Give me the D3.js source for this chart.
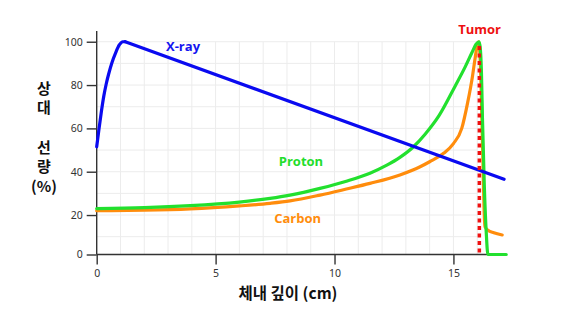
<!DOCTYPE html>
<html>
<head>
<meta charset="utf-8">
<script src="https://cdn.jsdelivr.net/npm/d3@7"></script>
<style>
  html, body { margin: 0; padding: 0; background: #fff; }
  svg { display: block; }
  text { font-family: "Noto Sans CJK KR", "Noto Sans", sans-serif; }
</style>
</head>
<body>
<svg id="chart" width="577" height="325"></svg>
<script>
// Depth-dose curves: [depth (cm), relative dose (%)]
// X-ray: build-up region, then a straight exponential-like fall-off
const xrayBuildup = [
  [0, 51.5], [0.1, 60], [0.2, 68], [0.3, 75], [0.4, 80.5], [0.5, 85],
  [0.63, 90], [0.8, 95], [0.95, 98.5], [1.1, 100], [1.2, 100]
];
const xrayFalloff = [[1.2, 100], [17.13, 36.5]];
const proton = [
  [0, 23], [2, 23.4], [3.93, 24.3], [6, 26], [7.29, 27.7], [8.13, 29.2],
  [9.39, 32.3], [10.5, 35.6], [11.49, 39.3], [12.2, 43], [12.75, 46.6],
  [13.31, 51.4], [13.8, 57.2], [14.4, 66], [15.07, 79.5], [15.5, 88.5],
  [15.77, 94.8], [15.95, 98.8], [16.08, 100], [16.13, 97], [16.18, 85],
  [16.22, 65], [16.3, 33], [16.38, 12], [16.45, 0], [17.22, 0]
];
const carbon = [
  [0, 22], [2, 22.2], [3.93, 22.8], [6, 24.2], [7.29, 25.4], [8.13, 26.5],
  [9.39, 29.2], [10.5, 32], [11.49, 34.6], [12.75, 38.5], [13.6, 42.3],
  [14.0, 44.6], [14.6, 48.6], [15.0, 53], [15.35, 60], [15.6, 72],
  [15.8, 84], [15.92, 93], [16.02, 99.3], [16.06, 100], [16.12, 93],
  [16.18, 72], [16.24, 45], [16.29, 22], [16.33, 14.5], [16.45, 13],
  [16.7, 11.8], [17.05, 10.8]
];
const tumorDepth = [16.09];
const xTicks = [0, 5, 10, 15];
const yTicks = [0, 20, 40, 60, 80, 100];
const yTitleLines = ["상", "대", "", "선", "량", "(%)"];

const svg = d3.select("#chart");

const x = d3.scaleLinear().domain([0, 16.5]).range([96.7, 489.1]);
const y = d3.scaleLinear().domain([0, 10, 105]).range([254.5, 236.7, 30.9]);

// light grid: every 1 cm and every 10 %
const grid = svg.append("g").attr("stroke", "#ececec").attr("stroke-width", 1);
grid.selectAll(".gv").data(d3.range(1, 17)).join("line")
  .attr("x1", d => x(d)).attr("x2", d => x(d))
  .attr("y1", y(0)).attr("y2", y(100));
grid.selectAll(".gh").data(d3.range(10, 101, 10)).join("line")
  .attr("x1", x(0)).attr("x2", x(16))
  .attr("y1", d => y(d)).attr("y2", d => y(d));

// axes
const xAxis = svg.append("g")
  .attr("transform", `translate(0,${y(0)})`)
  .call(d3.axisBottom(x).tickValues(xTicks).tickSize(10).tickPadding(5).tickFormat(d3.format("d")));
const yAxis = svg.append("g")
  .attr("transform", `translate(${x(0)},0)`)
  .call(d3.axisLeft(y).tickValues(yTicks).tickSize(10).tickPadding(4).tickFormat(d3.format("d")));
[xAxis, yAxis].forEach(a => {
  a.select(".domain").attr("stroke", "#333").attr("stroke-width", 1.4);
  a.selectAll(".tick line").attr("stroke", "#333").attr("stroke-width", 1.4);
  a.selectAll(".tick text").attr("fill", "#333").style("font-size", "10.5px")
    .style("font-family", "'Noto Sans', sans-serif");
});
xAxis.select(".domain").attr("d", `M${x(0)},0H${x(16.5)}`);
yAxis.select(".domain").attr("d", `M0,${y(0)}V${y(105)}`);

// curves
const smooth = d3.line().x(d => x(d[0])).y(d => y(d[1])).curve(d3.curveMonotoneX);
const straight = d3.line().x(d => x(d[0])).y(d => y(d[1]));
const curves = [
  { data: carbon, color: "#ff8c0c", gen: smooth },
  { data: proton, color: "#22e02e", gen: smooth },
  { data: xrayBuildup, color: "#0a0af0", gen: smooth },
  { data: xrayFalloff, color: "#0a0af0", gen: straight }
];
svg.append("g").selectAll("path").data(curves).join("path")
  .attr("d", d => d.gen(d.data))
  .attr("fill", "none")
  .attr("stroke", d => d.color)
  .attr("stroke-width", 3.2)
  .attr("stroke-linejoin", "round")
  .attr("stroke-linecap", "round");

// tumour position
svg.append("g").selectAll("line").data(tumorDepth).join("line")
  .attr("x1", d => x(d)).attr("x2", d => x(d))
  .attr("y1", y(98)).attr("y2", y(0))
  .attr("stroke", "#f01010")
  .attr("stroke-width", 3.5)
  .attr("stroke-dasharray", "4,3.5");

// curve labels
const labels = [
  { text: "X-ray", depth: 3.63, dose: 98.0, color: "#1414f0" },
  { text: "Proton", depth: 8.59, dose: 45.0, color: "#22dd2c" },
  { text: "Carbon", depth: 8.45, dose: 18.5, color: "#ff8c0c" },
  { text: "Tumor", depth: 16.1, dose: 106.0, color: "#ee1010" }
];
svg.append("g").selectAll("text").data(labels).join("text")
  .attr("x", d => x(d.depth)).attr("y", d => y(d.dose))
  .attr("text-anchor", "middle").attr("dominant-baseline", "central")
  .attr("fill", d => d.color)
  .style("font-family", "'Open Sans', 'Noto Sans', sans-serif")
  .style("font-weight", "700").style("font-size", "13px")
  .text(d => d.text);

// axis titles
svg.append("text")
  .attr("x", 288).attr("y", 292)
  .attr("text-anchor", "middle").attr("dominant-baseline", "central")
  .attr("fill", "#111").style("font-weight", "700").style("font-size", "15.5px")
  .text("체내 깊이 (cm)");
svg.append("g").selectAll("text").data(yTitleLines).join("text")
  .attr("x", 44).attr("y", (d, i) => 87 + i * 19.7)
  .attr("text-anchor", "middle").attr("dominant-baseline", "central")
  .attr("fill", "#111").style("font-weight", "700").style("font-size", "15px")
  .text(d => d);
</script>
</body>
</html>
